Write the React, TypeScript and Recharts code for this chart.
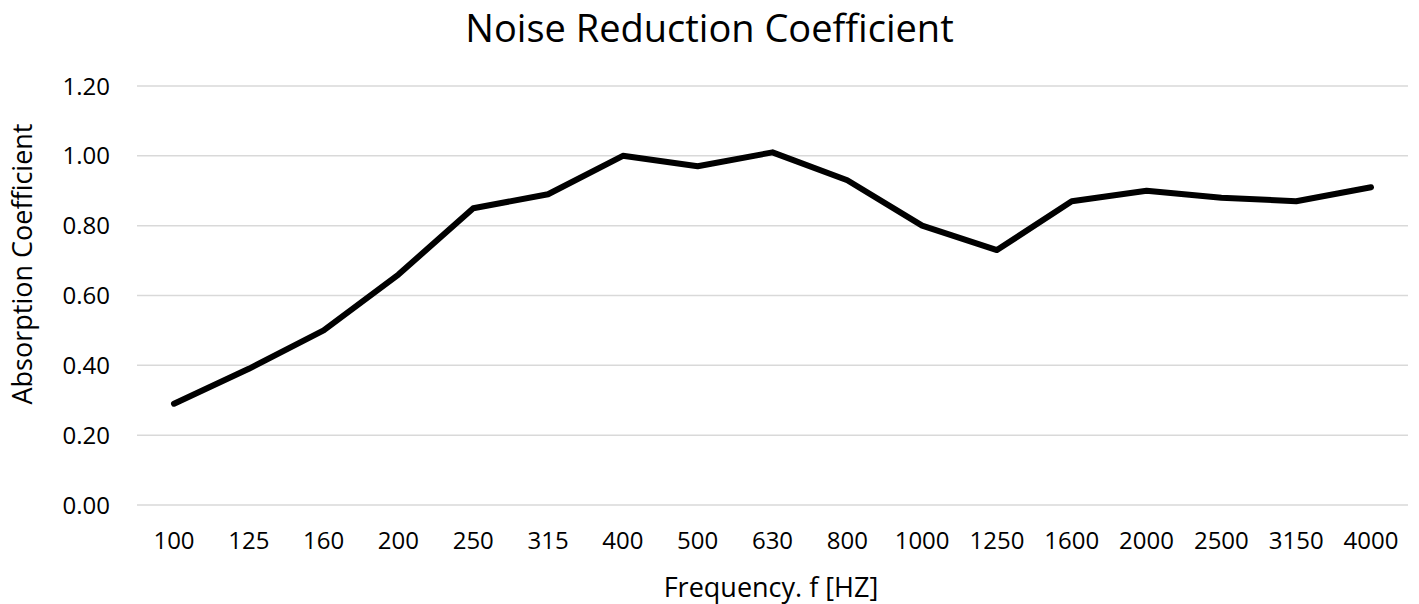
import React from "react";
import { LineChart, Line, XAxis, YAxis, CartesianGrid } from "recharts";

const frequencies = [
  "100", "125", "160", "200", "250", "315", "400", "500", "630",
  "800", "1000", "1250", "1600", "2000", "2500", "3150", "4000",
];
const absorption = [
  0.29, 0.39, 0.5, 0.66, 0.85, 0.89, 1.0, 0.97, 1.01,
  0.93, 0.8, 0.73, 0.87, 0.9, 0.88, 0.87, 0.91,
];
const yTicks = [0, 0.2, 0.4, 0.6, 0.8, 1.0, 1.2];

const data = frequencies.map((f, i) => ({ freq: f, value: absorption[i] }));

const FONT = "'Open Sans', sans-serif";
const TEXT = "#000000";

export default function App() {
  return (
    <div
      style={{
        position: "absolute",
        left: 0,
        top: 0,
        width: 1419,
        height: 604,
        background: "#fff",
        fontFamily: FONT,
        color: TEXT,
      }}
    >
      {/* chart title */}
      <div
        style={{
          position: "absolute",
          left: 0,
          width: 1419,
          top: 1,
          textAlign: "center",
          fontSize: 38,
          lineHeight: "52px",
        }}
      >
        Noise Reduction Coefficient
      </div>

      {/* y axis title */}
      <div
        style={{
          position: "absolute",
          left: 22,
          top: 264,
          transform: "translate(-50%, -50%) rotate(-90deg)",
          whiteSpace: "nowrap",
          fontSize: 27,
          lineHeight: "32px",
        }}
      >
        Absorption Coefficient
      </div>

      {/* x axis title */}
      <div
        style={{
          position: "absolute",
          left: 771,
          top: 587,
          transform: "translate(-50%, -50%)",
          whiteSpace: "nowrap",
          fontSize: 27,
          lineHeight: "32px",
        }}
      >
        Frequency. f [HZ]
      </div>

      <LineChart
        width={1419}
        height={604}
        data={data}
        margin={{ top: 86, right: 11, bottom: 0, left: 37 }}
      >
        <CartesianGrid
          vertical={false}
          stroke="#d9d9d9"
          strokeWidth={1.5}
        />
        <XAxis
          dataKey="freq"
          height={99}
          padding={{ left: 37, right: 37 }}
          axisLine={false}
          tickLine={false}
          tickSize={0}
          tickMargin={27}
          interval={0}
          tick={{ fill: TEXT, fontSize: 24, fontFamily: FONT }}
        />
        <YAxis
          width={100}
          domain={[0, 1.2]}
          ticks={yTicks}
          axisLine={false}
          tickLine={false}
          tickSize={0}
          tickMargin={27}
          tickFormatter={(v: number) => v.toFixed(2)}
          tick={{ fill: TEXT, fontSize: 24, fontFamily: FONT }}
        />
        <Line
          type="linear"
          dataKey="value"
          stroke="#000000"
          strokeWidth={6}
          strokeLinecap="round"
          strokeLinejoin="round"
          dot={false}
          activeDot={false}
          isAnimationActive={false}
        />
      </LineChart>
    </div>
  );
}
